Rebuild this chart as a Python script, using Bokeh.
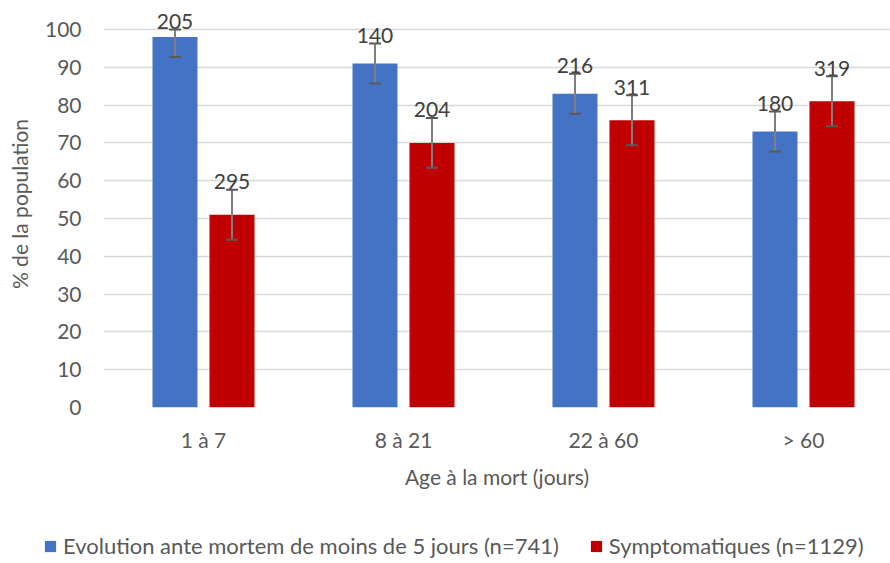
import numpy as np
from bokeh.plotting import figure
from bokeh.layouts import column
from bokeh.models import (ColumnDataSource, Range1d, FixedTicker, Whisker, TeeHead,
                          Legend, LegendItem)
from bokeh.core.properties import value
from bokeh.embed import file_html
from bokeh.resources import INLINE

# ---- data ----
categories = ["1 à 7", "8 à 21", "22 à 60", "> 60"]
blue_vals = [98, 91, 83, 73]
red_vals = [51, 70, 76, 81]
blue_err = [5.3, 5.3, 5.3, 5.3]
red_err = [6.6, 6.6, 6.6, 6.6]
blue_n = [205, 140, 216, 180]
red_n = [295, 204, 311, 319]
blue_name = "Evolution ante mortem de moins de 5 jours (n=741)"
red_name = "Symptomatiques (n=1129)"
y_ticks = list(range(0, 101, 10))

BLUE = "#4472C4"
RED = "#C00000"
TXT = "#595959"
FONT = "Lato"

idx = np.arange(len(categories))
off = 0.1425
bw = 0.225
ymax = 100


def make_src(vals, err, n, dx):
    vals = np.array(vals, dtype=float)
    err = np.array(err, dtype=float)
    up = np.minimum(vals + err, ymax)
    return ColumnDataSource(dict(
        x=idx + dx, top=vals, upper=up, lower=vals - err,
        label=[str(v) for v in n]))


sb = make_src(blue_vals, blue_err, blue_n, -off)
sr = make_src(red_vals, red_err, red_n, off)

p = figure(width=890, height=528, output_backend="svg", toolbar_location=None,
           x_range=Range1d(-0.5, 3.435), y_range=Range1d(0, 107.67),
           min_border_left=103, min_border_right=0, min_border_top=0,
           min_border_bottom=121)
p.outline_line_color = None
p.background_fill_color = "white"
p.border_fill_color = "white"

rb = p.vbar(x="x", top="top", width=bw, source=sb, fill_color=BLUE, line_color=None)
rr = p.vbar(x="x", top="top", width=bw, source=sr, fill_color=RED, line_color=None)

for s in (sb, sr):
    w = Whisker(source=s, base="x", upper="upper", lower="lower", dimension="height",
                line_color="#7F7F7F", line_width=2, level="annotation",
                upper_head=TeeHead(size=12, line_color="#595959", line_width=2),
                lower_head=TeeHead(size=12, line_color="#595959", line_width=2))
    p.add_layout(w)
    p.text(x="x", y="upper", text="label", source=s, text_align="center",
           text_baseline="alphabetic", y_offset=-8, text_font=value(FONT),
           text_font_size="21px", text_color="#404040")

# axes
p.xgrid.visible = False
p.ygrid.grid_line_color = "#D9D9D9"
p.ygrid.grid_line_width = 1.5
p.yaxis.ticker = FixedTicker(ticks=y_ticks)
p.xaxis.ticker = FixedTicker(ticks=list(idx))
p.xaxis.major_label_overrides = {int(i): c for i, c in zip(idx, categories)}

for ax in (p.xaxis[0], p.yaxis[0]):
    ax.axis_line_color = None
    ax.major_tick_line_color = None
    ax.minor_tick_line_color = None
    ax.major_tick_out = 0
    ax.major_tick_in = 0
    ax.minor_tick_out = 0
    ax.major_label_text_font = FONT
    ax.major_label_text_font_size = "21px"
    ax.major_label_text_color = TXT
    ax.axis_label_text_font = FONT
    ax.axis_label_text_font_size = "21px"
    ax.axis_label_text_color = TXT
    ax.axis_label_text_font_style = "normal"

p.yaxis.axis_label = "% de la population"
p.yaxis.major_label_standoff = 22
p.yaxis.axis_label_standoff = 10
p.xaxis.axis_label = "Age à la mort (jours)"
p.xaxis.major_label_standoff = 19
p.xaxis.axis_label_standoff = 9

# ---- legend strip (separate figure below the chart) ----
pl = figure(width=890, height=35, output_backend="svg", toolbar_location=None,
            x_axis_type=None, y_axis_type=None,
            x_range=Range1d(0, 1), y_range=Range1d(0, 1),
            min_border_left=0, min_border_right=0, min_border_top=0,
            min_border_bottom=0)
pl.frame_align = False
pl.outline_line_color = None
pl.grid.visible = False
# legend proxies, placed outside the visible range of the strip
lb = pl.vbar(x=[5], top=[1], width=0.1, fill_color=BLUE, line_color=None)
lr = pl.vbar(x=[5], top=[1], width=0.1, fill_color=RED, line_color=None)

legend = Legend(items=[LegendItem(label=blue_name, renderers=[lb]),
                       LegendItem(label=red_name, renderers=[lr])],
                orientation="horizontal", location=(43, 4),
                glyph_width=14, glyph_height=14, label_standoff=6, spacing=30,
                padding=0, margin=0, label_text_font=FONT, label_text_font_size="22px",
                label_text_color=TXT, label_height=22,
                background_fill_alpha=0, border_line_alpha=0)
pl.add_layout(legend, "center")

open("out.html", "w").write(file_html(column(p, pl, spacing=0), INLINE))
